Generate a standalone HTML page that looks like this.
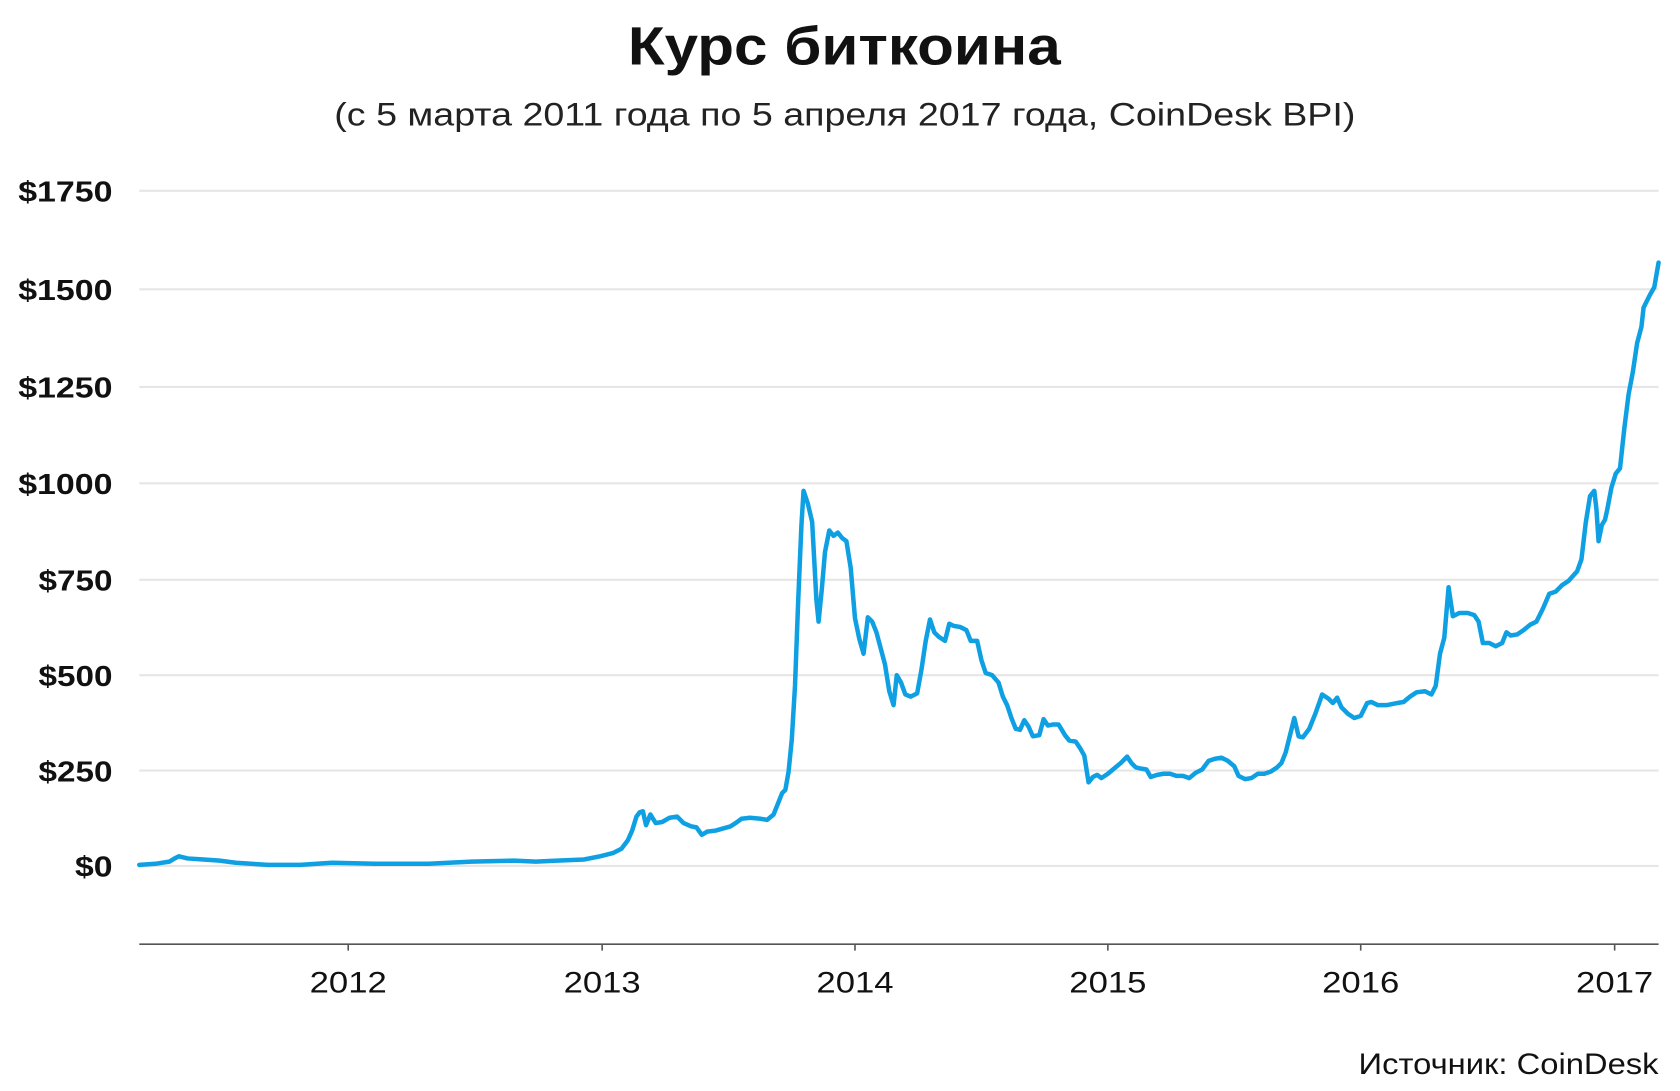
<!DOCTYPE html>
<html><head><meta charset="utf-8"><style>html,body{margin:0;padding:0;background:#fff}svg{display:block}</style></head>
<body>
<svg width="1680" height="1091" viewBox="0 0 1568 1018" preserveAspectRatio="none" xmlns="http://www.w3.org/2000/svg" font-family="'Liberation Sans','DejaVu Sans',sans-serif">
<rect width="1568" height="1018" fill="#fff"/>
<text x="586" y="60" font-size="50" font-weight="bold" fill="#111" textLength="404" lengthAdjust="spacingAndGlyphs">Курс биткоина</text>
<text x="312" y="117" font-size="30" fill="#222" textLength="953" lengthAdjust="spacingAndGlyphs">(с 5 марта 2011 года по 5 апреля 2017 года, CoinDesk BPI)</text>
<g stroke="#e6e6e6" stroke-width="2">
<line x1="130" x2="1548" y1="178" y2="178"/><line x1="130" x2="1548" y1="270" y2="270"/>
<line x1="130" x2="1548" y1="361" y2="361"/><line x1="130" x2="1548" y1="451" y2="451"/>
<line x1="130" x2="1548" y1="541" y2="541"/><line x1="130" x2="1548" y1="630" y2="630"/>
<line x1="130" x2="1548" y1="719" y2="719"/><line x1="130" x2="1548" y1="808" y2="808"/>
</g>
<g font-size="27" font-weight="bold" fill="#111">
<text x="17" y="188" textLength="88" lengthAdjust="spacingAndGlyphs">$1750</text><text x="17" y="280" textLength="88" lengthAdjust="spacingAndGlyphs">$1500</text><text x="17" y="371" textLength="88" lengthAdjust="spacingAndGlyphs">$1250</text>
<text x="17" y="461" textLength="88" lengthAdjust="spacingAndGlyphs">$1000</text><text x="36" y="551" textLength="69" lengthAdjust="spacingAndGlyphs">$750</text><text x="36" y="640" textLength="69" lengthAdjust="spacingAndGlyphs">$500</text>
<text x="36" y="729" textLength="69" lengthAdjust="spacingAndGlyphs">$250</text><text x="70" y="818" textLength="35" lengthAdjust="spacingAndGlyphs">$0</text>
</g>
<line x1="130" x2="1548" y1="881" y2="881" stroke="#555" stroke-width="1.5"/>
<g stroke="#555" stroke-width="1.5">
<line x1="325" x2="325" y1="881" y2="887"/><line x1="562" x2="562" y1="881" y2="887"/>
<line x1="798" x2="798" y1="881" y2="887"/><line x1="1034" x2="1034" y1="881" y2="887"/>
<line x1="1270" x2="1270" y1="881" y2="887"/><line x1="1507" x2="1507" y1="881" y2="887"/>
</g>
<g font-size="28" fill="#111">
<text x="289" y="926" textLength="72" lengthAdjust="spacingAndGlyphs">2012</text><text x="526" y="926" textLength="72" lengthAdjust="spacingAndGlyphs">2013</text><text x="762" y="926" textLength="72" lengthAdjust="spacingAndGlyphs">2014</text>
<text x="998" y="926" textLength="72" lengthAdjust="spacingAndGlyphs">2015</text><text x="1234" y="926" textLength="72" lengthAdjust="spacingAndGlyphs">2016</text><text x="1471" y="926" textLength="72" lengthAdjust="spacingAndGlyphs">2017</text>
</g>
<text x="1268" y="1002" font-size="28" fill="#111" textLength="280" lengthAdjust="spacingAndGlyphs">Источник: CoinDesk</text>
<polyline fill="none" stroke="#0ea0e2" stroke-width="4.2" stroke-linejoin="round" stroke-linecap="round" points="130,807 145,806 158,804 163,801 167,799 175,801 190,802 205,803 220,805 250,807 280,807 310,805 350,806 400,806 440,804 480,803 500,804 520,803 545,802 560,799 572,796 580,792 586,784 590,775 594,762 597,758 600,757 603,770 607,760 612,768 618,767 625,763 632,762 638,768 645,771 650,772 655,779 660,776 668,775 675,773 682,771 688,767 692,764 700,763 710,764 716,765 722,760 726,750 730,740 733,737 736,720 739,690 742,640 745,560 748,490 750,458 754,470 758,487 762,560 764,580 767,550 770,515 774,495 778,500 782,497 786,502 790,505 794,530 798,577 802,596 806,610 810,576 814,580 818,590 822,605 826,620 830,645 834,658 837,630 841,637 845,648 850,650 856,647 860,625 864,598 868,578 872,590 876,594 882,598 886,582 890,584 896,585 902,588 906,598 912,598 916,616 920,628 926,630 932,637 936,650 940,658 944,670 948,680 952,681 956,672 960,678 964,687 970,686 974,671 978,677 983,676 988,676 994,686 998,691 1004,692 1008,698 1012,705 1016,730 1020,725 1024,723 1028,726 1034,722 1040,717 1046,712 1052,706 1056,712 1060,716 1064,717 1070,718 1074,725 1080,723 1086,722 1092,722 1098,724 1104,724 1110,726 1116,721 1122,718 1128,710 1134,708 1140,707 1146,710 1152,715 1156,724 1162,727 1168,726 1174,722 1180,722 1186,720 1192,716 1196,712 1200,702 1204,686 1208,670 1212,687 1216,688 1222,680 1228,665 1234,648 1240,652 1244,656 1248,651 1252,660 1258,666 1264,670 1270,668 1276,656 1280,655 1286,658 1294,658 1304,656 1310,655 1316,650 1322,646 1330,645 1336,648 1340,640 1344,610 1348,595 1352,548 1356,575 1362,572 1370,572 1376,574 1380,580 1384,600 1390,600 1396,603 1402,600 1406,590 1410,593 1416,592 1422,588 1428,583 1434,580 1440,568 1446,554 1452,552 1458,546 1464,542 1472,533 1476,522 1480,488 1484,463 1488,458 1490,475 1492,505 1495,490 1498,485 1500,476 1504,455 1508,442 1512,437 1516,400 1520,368 1524,347 1528,320 1532,305 1534,287 1540,275 1544,268 1548,245"/>
</svg>
</body></html>
